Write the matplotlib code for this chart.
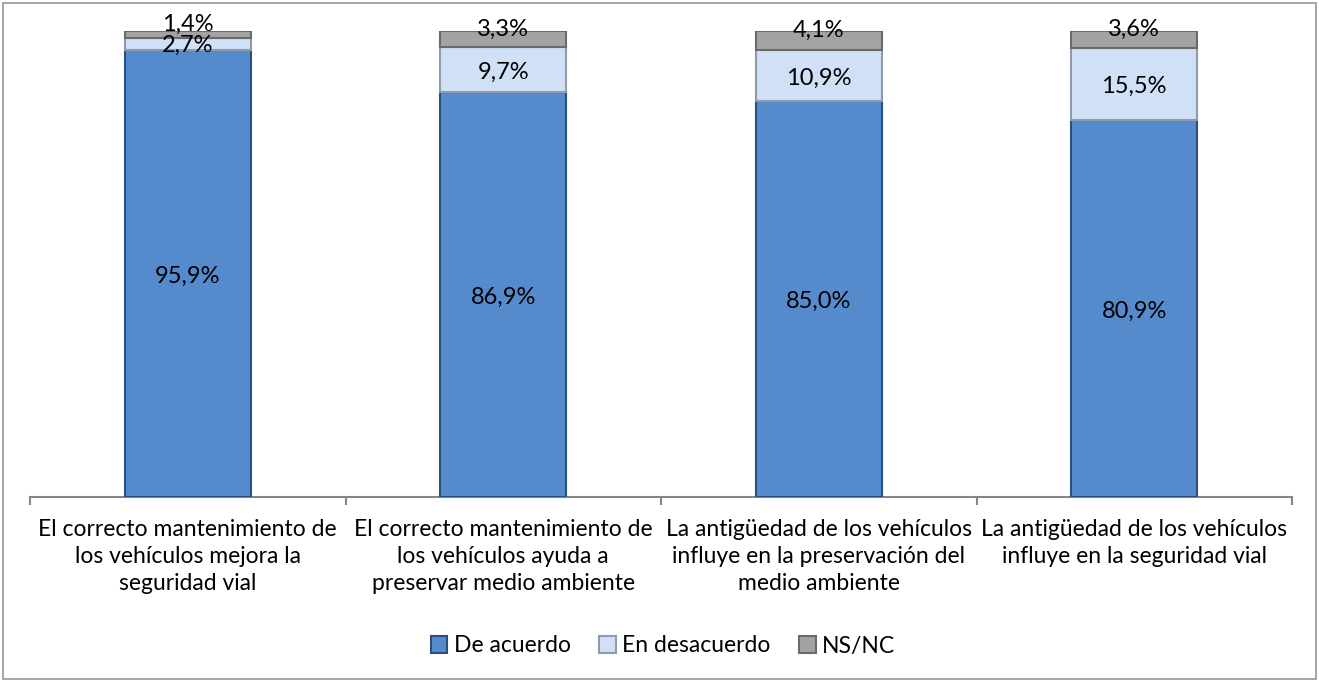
import matplotlib
matplotlib.use("Agg")
import matplotlib.pyplot as plt
from matplotlib.patches import Rectangle
import numpy as np

categories = [
    "El correcto mantenimiento de\nlos vehículos mejora la\nseguridad vial",
    "El correcto mantenimiento de\nlos vehículos ayuda a\npreservar medio ambiente",
    "La antigüedad de los vehículos\ninfluye en la preservación del\nmedio ambiente",
    "La antigüedad de los vehículos\ninfluye en la seguridad vial",
]
series_names = ["De acuerdo", "En desacuerdo", "NS/NC"]
de_acuerdo = [95.9, 86.9, 85.0, 80.9]
en_desacuerdo = [2.7, 9.7, 10.9, 15.5]
ns_nc = [1.4, 3.3, 4.1, 3.6]

face_colors = ["#558BCD", "#D0E1F7", "#A3A3A3"]
edge_colors = ["#2B4F7C", "#8E9BAD", "#6A6A6A"]

plt.rcParams['font.family'] = ['Lato', 'DejaVu Sans']

W, H = 1319, 682
fig = plt.figure(figsize=(W / 100, H / 100), dpi=100)
ax = fig.add_axes([30 / W, (H - 497) / H, (1292 - 30) / W, (497 - 31) / H])

x = np.arange(len(categories))
width = 0.4
bottom = np.zeros(len(categories))
all_series = [de_acuerdo, en_desacuerdo, ns_nc]
handles = []
for i, (vals, name) in enumerate(zip(all_series, series_names)):
    vals = np.array(vals)
    bars = ax.bar(x, vals, width, bottom=bottom, color=face_colors[i],
                  edgecolor=edge_colors[i], linewidth=1.5, label=name, zorder=3)
    handles.append(bars)
    for xi, b, v in zip(x, bottom, vals):
        yc = b + v / 2
        off = 7 if i == 2 else (-1 if v < 5 else -2)
        ax.annotate(f"{v:.1f}%".replace(".", ","), (xi, yc), xytext=(0, off),
                    textcoords="offset points", ha="center", va="center",
                    fontsize=17, color="black", zorder=5)
    bottom = bottom + vals

ax.set_xlim(-0.5, len(categories) - 0.5)
ax.set_ylim(0, 100)
ax.set_yticks([])
for s in ["left", "right", "top"]:
    ax.spines[s].set_visible(False)
ax.spines["bottom"].set_color("#868686")
ax.spines["bottom"].set_linewidth(1.5)

ax.set_xticks(x)
ax.set_xticklabels(categories, fontsize=16.5, linespacing=1.36)
ax.tick_params(axis="x", which="major", length=0, pad=16)
ax.set_xticks(np.arange(-0.5, len(categories), 1.0), minor=True)
ax.tick_params(axis="x", which="minor", length=6, width=1.5, color="#868686")

leg = fig.legend(handles=handles, labels=series_names, loc="center",
                 bbox_to_anchor=(663 / W, 1 - 646 / H), ncol=3, frameon=False,
                 fontsize=16.5, handlelength=0.72, handleheight=0.72,
                 handletextpad=0.28, columnspacing=1.25)

fig.patches.append(Rectangle((3 / W, 3 / H), (W - 6) / W, (H - 6) / H,
                             transform=fig.transFigure, fill=False,
                             edgecolor="#969696", linewidth=1.2))

fig.savefig("out.png", dpi=100)
